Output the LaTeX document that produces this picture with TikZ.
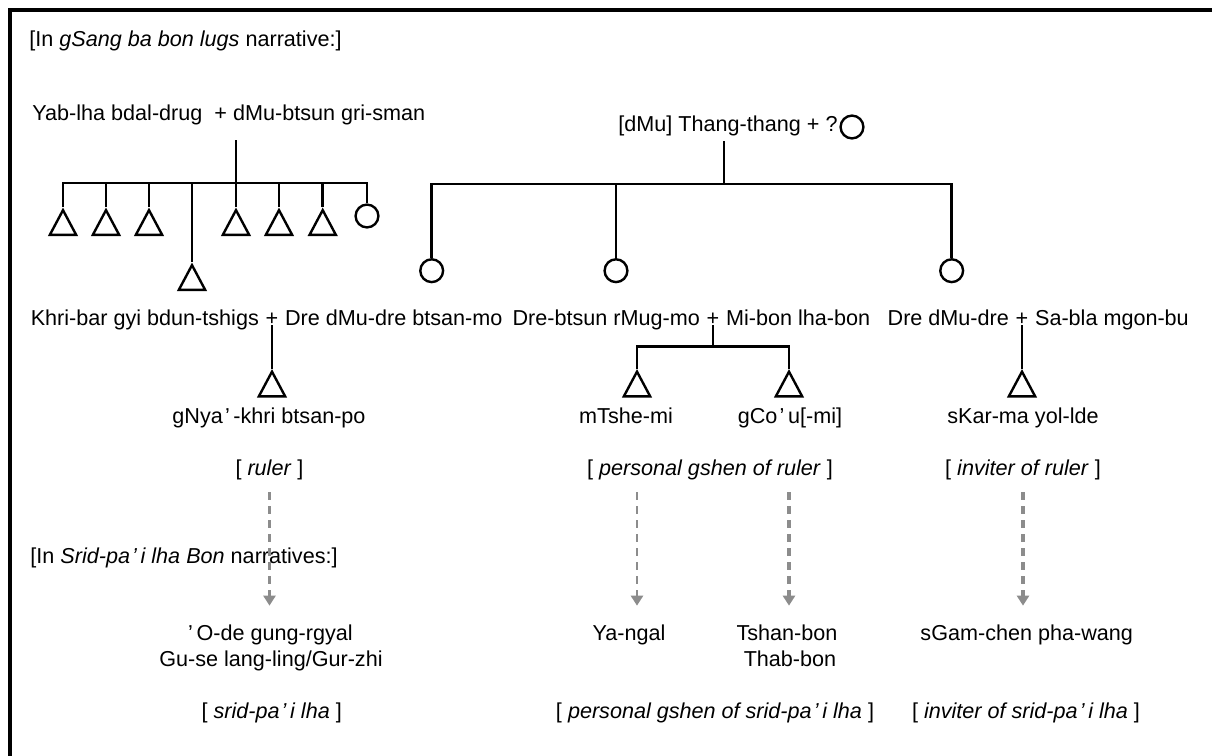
\documentclass[tikz,border=0pt]{standalone}
\usepackage{fontspec}
\setmainfont{Liberation Sans}
\usetikzlibrary{positioning,shapes.geometric,arrows.meta}

\newcommand{\ap}{\kern.1em’\kern.17em}

\tikzset{
  txt/.style={inner sep=0pt, anchor=base, font=\fontsize{10.8pt}{13pt}\selectfont},
  kin/.style={line width=1.3pt},
  male/.style={draw, line width=1.2pt, isosceles triangle, shape border rotate=90,
    isosceles triangle stretches, minimum width=13.2pt, minimum height=12.4pt,
    inner sep=0pt, anchor=apex},
  female/.style={draw, line width=1.2pt, circle, inner sep=0pt, minimum size=11.4pt},
  later/.style={draw=black!45, line width=1.3pt, dash pattern=on 4pt off 3pt,
    -{Triangle[width=6pt,length=5pt]}, shorten <=6.1pt, shorten >=9.5pt},
}

\begin{document}
\begin{tikzpicture}[x=0.5pt, y=-0.5pt]
        \useasboundingbox (0,0) rectangle (1212,756);

        % Frame
        \draw[line width=2pt] (9.5,756) -- (9.5,10.3) -- (1212,10.3);

        % Nodes
        \node[txt, anchor=base west] (GsangTitle) at (29,46) {[In \textit{gSang ba bon lugs} narrative:]};
        \node[txt, anchor=base west] (YabLha) at (32,120) {Yab-lha bdal-drug\ \ + dMu-btsun gri-sman};
        \node[txt, anchor=base west] (ThangThang) at (618,131) {[dMu] Thang-thang + ?};
        \node[female] (ThangWife) at (852,127) {};

        \node[male] (BroA) at (63,207) {};
        \node[male] (BroB) at (106,207) {};
        \node[male] (BroC) at (149,207) {};
        \node[male] (KhriBarSym) at (192,262) {};
        \node[male] (BroE) at (236,207) {};
        \node[male] (BroF) at (279,207) {};
        \node[male] (BroG) at (322.7,207) {};
        \node[female] (SisA) at (367,216) {};

        \node[female] (DreDmuSym) at (431.7,270.7) {};
        \node[female] (DreBtsunSym) at (616,270.7) {};
        \node[female] (DreDmuBSym) at (951.7,270.7) {};

        \node[txt] (PlusA) at (272,325) {+};
        \node[txt, base left=3pt of PlusA] (KhriBar) {Khri-bar gyi bdun-tshigs};
        \node[txt, base right=3pt of PlusA] (DreBtsanmo) {Dre dMu-dre btsan-mo};
        \node[txt] (PlusB) at (713,325) {+};
        \node[txt, base left=3pt of PlusB] (DreBtsun) {Dre-btsun rMug-mo};
        \node[txt, base right=3pt of PlusB] (MiBon) {Mi-bon lha-bon};
        \node[txt] (PlusC) at (1022,325) {+};
        \node[txt, base left=3pt of PlusC] (DreDmu) {Dre dMu-dre};
        \node[txt, base right=3pt of PlusC] (SaBla) {Sa-bla mgon-bu};

        \node[male] (GnyaSym) at (272,368.5) {};
        \node[male] (MtsheSym) at (637,368.5) {};
        \node[male] (GcoSym) at (789,368.5) {};
        \node[male] (KarmaSym) at (1022,368.5) {};

        \node[txt] (Gnya) at (269,423) {gNya\ap -khri btsan-po};
        \node[txt] (Mtshe) at (626,423) {mTshe-mi};
        \node[txt] (Gco) at (790,423) {gCo\ap u[-mi]};
        \node[txt] (Karma) at (1023,423) {sKar-ma yol-lde};

        \node[txt] (Ruler) at (269.5,475) {[ \textit{ruler} ]};
        \node[txt] (GshenRuler) at (710,475) {[ \textit{personal gshen of ruler} ]};
        \node[txt] (InviterRuler) at (1023,475) {[ \textit{inviter of ruler} ]};

        \node[txt, anchor=base west] (SridTitle) at (30,563) {[In \textit{Srid-pa\ap i lha Bon} narratives:]};

        \node[txt] (Ode) at (270.5,640.7) {’\kern.17em O-de gung-rgyal};
        \node[txt] (Guse) at (271,666) {Gu-se lang-ling/Gur-zhi};
        \node[txt] (Yangal) at (629,640.7) {Ya-ngal};
        \node[txt] (Tshan) at (787,640.7) {Tshan-bon};
        \node[txt] (Thab) at (790,666) {Thab-bon};
        \node[txt] (Sgam) at (1026.7,640.7) {sGam-chen pha-wang};

        \node[txt] (SridLha) at (271.7,718) {[ \textit{srid-pa\ap i lha} ]};
        \node[txt] (GshenSrid) at (715,718) {[ \textit{personal gshen of srid-pa\ap i lha} ]};
        \node[txt] (InviterSrid) at (1026,718) {[ \textit{inviter of srid-pa\ap i lha} ]};

        % Kin lines
        \coordinate (LeftBar) at (236,183);
        \draw[kin, shorten >=7.75pt] (LeftBar) -- (LeftBar |- YabLha.south);
        \draw[kin] (BroA.apex) |- (LeftBar) -| (SisA.north);
        \draw[kin] (BroB.apex) -- (BroB.apex |- LeftBar);
        \draw[kin] (BroC.apex) -- (BroC.apex |- LeftBar);
        \draw[kin] (KhriBarSym.apex) -- (KhriBarSym.apex |- LeftBar);
        \draw[kin] (BroE.apex) -- (BroE.apex |- LeftBar);
        \draw[kin] (BroF.apex) -- (BroF.apex |- LeftBar);
        \draw[kin] (BroG.apex) -- (BroG.apex |- LeftBar);

        \coordinate (RightBar) at (724,184);
        \draw[kin, shorten >=2.75pt] (RightBar) -- (RightBar |- ThangThang.south);
        \draw[kin] (DreDmuSym.north) |- (RightBar) -| (DreDmuBSym.north);
        \draw[kin] (DreBtsunSym.north) -- (DreBtsunSym.north |- RightBar);

        \coordinate (MidBar) at (713,346.7);
        \draw[kin] (PlusA.south) -- (GnyaSym.apex);
        \draw[kin] (PlusB.south) -- (MidBar);
        \draw[kin] (MtsheSym.apex) |- (MidBar) -| (GcoSym.apex);
        \draw[kin] (PlusC.south) -- (KarmaSym.apex);

        % Arrows
        \draw[later] (Ruler.south) -- (Ruler.south |- Ode.north);
        \draw[later] (MtsheSym.apex |- GshenRuler.south) -- (MtsheSym.apex |- Yangal.north);
        \draw[later, line width=2pt] (GcoSym.apex |- GshenRuler.south) -- (GcoSym.apex |- Tshan.north);
        \draw[later, line width=2pt] (InviterRuler.south) -- (InviterRuler.south |- Sgam.north);
    \end{tikzpicture}
\end{document}
